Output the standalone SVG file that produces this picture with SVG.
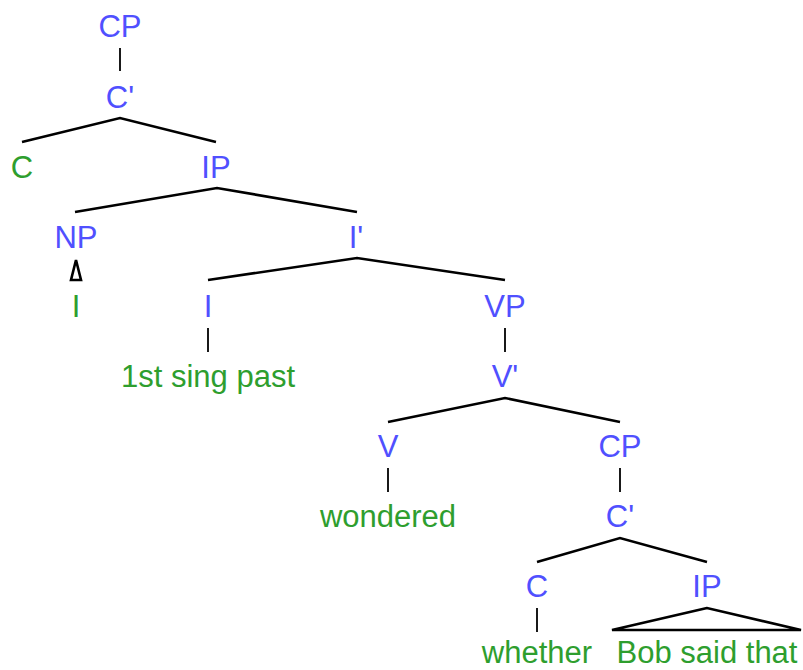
<svg xmlns="http://www.w3.org/2000/svg" width="803" height="670" viewBox="0 0 803 670">
<style>
text{font-family:"Liberation Sans",Arial,sans-serif;font-size:31px;text-anchor:middle}
.b{fill:#5050ff}
.g{fill:#2e9e2e}
.e{stroke:#000;stroke-width:2.6;fill:none}
.v{stroke:#000;stroke-width:1.8;fill:none}
</style>
<rect width="803" height="670" fill="#fff"/>
<g id="connectors">
<line class="v" x1="120" y1="48" x2="120" y2="71"/>
<polyline class="e" points="22,142 120,118 216,142"/>
<polyline class="e" points="75,212 217,188 357,212"/>
<polygon class="e" points="76,260 71,280 81,280"/>
<polyline class="e" points="208,280 357,258 505,280"/>
<line class="v" x1="208" y1="328" x2="208" y2="352"/>
<line class="v" x1="505" y1="328" x2="505" y2="352"/>
<polyline class="e" points="388,422 505,398 620,422"/>
<line class="v" x1="388" y1="468" x2="388" y2="492"/>
<line class="v" x1="620" y1="468" x2="620" y2="492"/>
<polyline class="e" points="537,562 620,538 707,562"/>
<line class="v" x1="537" y1="608" x2="537" y2="632"/>
<polygon class="e" points="707,608 612,630 801,630"/>
</g>
<g id="n_cp1"><text class="b" x="120" y="37">CP</text></g>
<g id="n_cbar1"><text class="b" x="120" y="108">C'</text></g>
<g id="n_c1"><text class="g" x="22" y="178">C</text></g>
<g id="n_ip1"><text class="b" x="216" y="178">IP</text></g>
<g id="n_np"><text class="b" x="76" y="248">NP</text></g>
<g id="n_pron"><text class="g" x="76" y="317">I</text></g>
<g id="n_ibar"><text class="b" x="356" y="248">I'</text></g>
<g id="n_i"><text class="b" x="208" y="317">I</text></g>
<g id="n_infl"><text class="g" x="208" y="387">1st sing past</text></g>
<g id="n_vp"><text class="b" x="505" y="317">VP</text></g>
<g id="n_vbar"><text class="b" x="505" y="387">V'</text></g>
<g id="n_v"><text class="b" x="388" y="457">V</text></g>
<g id="n_wondered"><text class="g" x="388" y="527">wondered</text></g>
<g id="n_cp2"><text class="b" x="620" y="457">CP</text></g>
<g id="n_cbar2"><text class="b" x="620" y="527">C'</text></g>
<g id="n_c2"><text class="b" x="537" y="597">C</text></g>
<g id="n_ip2"><text class="b" x="707" y="597">IP</text></g>
<g id="n_whether"><text class="g" x="537" y="663">whether</text></g>
<g id="n_bob"><text class="g" x="707" y="663">Bob said that</text></g>
</svg>
